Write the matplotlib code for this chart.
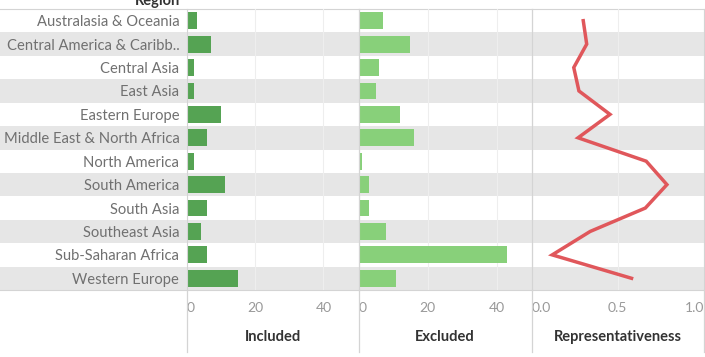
import matplotlib.pyplot as plt
from matplotlib.lines import Line2D

regions = ["Australasia & Oceania", "Central America & Caribb..", "Central Asia",
           "East Asia", "Eastern Europe", "Middle East & North Africa",
           "North America", "South America", "South Asia", "Southeast Asia",
           "Sub-Saharan Africa", "Western Europe"]
included = [3, 7, 2, 2, 10, 6, 2, 11, 6, 4, 6, 15]
excluded = [7, 15, 6, 5, 12, 16, 1, 3, 3, 8, 43, 11]
representativeness = [0.30, 0.32, 0.245, 0.275, 0.455, 0.27, 0.665, 0.785, 0.66, 0.34, 0.12, 0.58]

plt.rcParams['font.family'] = ['Lato', 'DejaVu Sans']

W, H = 705, 357
fig = plt.figure(figsize=(W / 100, H / 100), dpi=100)

top_px, bot_px = 9, 290
band_color = "#e6e6e6"
line_color = "#d4d4d4"


def fx(px):
    return px / W


def fy(px):
    return 1 - px / H


bottom = fy(bot_px)
height = (bot_px - top_px) / H
n = len(regions)
ypos = list(range(n))

# background with row banding across the whole width
bg = fig.add_axes([0, bottom, fx(704), height])
bg.set_xlim(0, 1)
bg.set_ylim(n - 0.5, -0.5)
for i in ypos:
    if i % 2 == 1:
        bg.axhspan(i - 0.5, i + 0.5, color=band_color, lw=0)
bg.set_xticks([])
bg.set_yticks([])
for s in ["left", "right"]:
    bg.spines[s].set_visible(False)
for s in ["top", "bottom"]:
    bg.spines[s].set_color(line_color)
bg.set_zorder(0)

panels = [(187, 358.5), (358.5, 531.5), (531.5, 704)]
axes = []
for x0, x1 in panels:
    ax = fig.add_axes([fx(x0), bottom, fx(x1 - x0), height])
    ax.set_facecolor("none")
    ax.set_zorder(1)
    ax.set_ylim(n - 0.5, -0.5)
    for s in ["top", "bottom"]:
        ax.spines[s].set_visible(False)
    for s in ["left", "right"]:
        ax.spines[s].set_color(line_color)
    ax.tick_params(axis="x", length=0, pad=9, labelsize=10, labelcolor="#999999")
    ax.tick_params(axis="y", length=0)
    ax.grid(axis="x", color="#eeeeee", lw=0.8)
    ax.set_axisbelow(True)
    axes.append(ax)

ax1, ax2, ax3 = axes

ax1.barh(ypos, included, height=0.72, color="#55a353")
ax1.set_xlim(0, 50.3)
ax1.set_xticks([0, 20, 40])
ax1.set_yticks(ypos)
ax1.set_yticklabels(regions, fontsize=10.6, color="#707070")
ax1.tick_params(axis="y", pad=5.5)

ax2.barh(ypos, excluded, height=0.72, color="#88d07a")
ax2.set_xlim(0, 50.1)
ax2.set_xticks([0, 20, 40])
ax2.set_yticks([])

ax3.plot(representativeness, ypos, color="#e0575b", lw=2.5, solid_joinstyle="miter")
ax3.set_xlim(0, 1)
ax3.set_xticks([0, 0.5, 1.0])
ax3.set_xticklabels(["0.0", "0.5", "1.0"])
ax3.set_yticks([])

for ax in (ax1, ax2):
    ax.get_xticklabels()[0].set_ha("left")
ax3.get_xticklabels()[0].set_ha("left")
ax3.get_xticklabels()[-1].set_ha("right")

for ax, label in zip(axes, ["Included", "Excluded", "Representativeness"]):
    ax.set_xlabel(label, fontsize=10.5, color="#333333", fontweight="bold", labelpad=11)

# panel divider lines continuing under the axes
for x in [187, 358.5, 531.5, 704]:
    fig.add_artist(Line2D([fx(x), fx(x)], [fy(bot_px), fy(352)],
                          transform=fig.transFigure, color=line_color, lw=0.9))

# header, cut at the top edge as in the original
fig.text(fx(157), fy(5), "Region", ha="center", va="baseline",
         fontsize=10.5, fontweight="bold", color="#333333")

fig.savefig("out.png", dpi=100)
